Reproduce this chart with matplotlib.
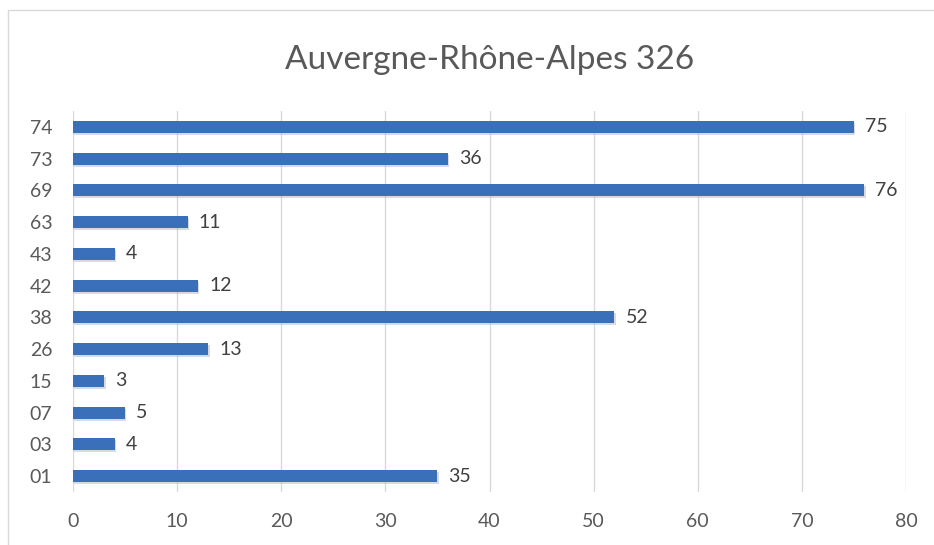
import matplotlib
matplotlib.use("Agg")
import matplotlib.pyplot as plt
import matplotlib.patheffects as pe
from matplotlib.patches import Rectangle

categories = ["01", "03", "07", "15", "26", "38", "42", "43", "63", "69", "73", "74"]
values = [35, 4, 5, 3, 13, 52, 12, 4, 11, 76, 36, 75]
title = "Auvergne-Rhône-Alpes 326"
xticks = [0, 10, 20, 30, 40, 50, 60, 70, 80]

plt.rcParams['font.family'] = ['Lato', 'DejaVu Sans']

fig = plt.figure(figsize=(9.34, 5.45), dpi=100)
fig.patches.append(Rectangle((8/934, -0.05), 1.0, 1 - 10/545 + 0.05,
                             transform=fig.transFigure, fill=False,
                             edgecolor='#d9d9d9', linewidth=1.0, zorder=0))
ax = fig.add_axes([73/934, 1 - 492/545, (906 - 73)/934, (492 - 111)/545])

ypos = list(range(len(categories)))
bars = ax.barh(ypos, values, height=0.38, color='#3A6FBA', zorder=3)
for b in bars:
    b.set_path_effects([pe.SimplePatchShadow(offset=(1, -1.5), shadow_rgbFace='#b0b8c4', alpha=0.5), pe.Normal()])

for y, v in zip(ypos, values):
    ax.annotate(str(v), (v, y), xytext=(8, 0), textcoords='offset points',
                va='center', ha='left', fontsize=14, color='#404040')

ax.set_xlim(0, 80)
ax.set_ylim(-0.5, len(categories) - 0.5)
ax.set_xticks(xticks)
ax.set_yticks(ypos)
ax.set_yticklabels(categories)
ax.tick_params(axis='both', length=0, labelsize=14, labelcolor='#595959')
ax.tick_params(axis='x', pad=15)
ax.tick_params(axis='y', pad=15)
ax.grid(axis='x', color='#d9d9d9', linewidth=1, zorder=0)
for s in ax.spines.values():
    s.set_visible(False)

fig.text((73 + 906) / 2 / 934, 1 - 60/545, title, ha='center', va='center',
         fontsize=24, color='#595959')

fig.savefig("out.png", dpi=100)
